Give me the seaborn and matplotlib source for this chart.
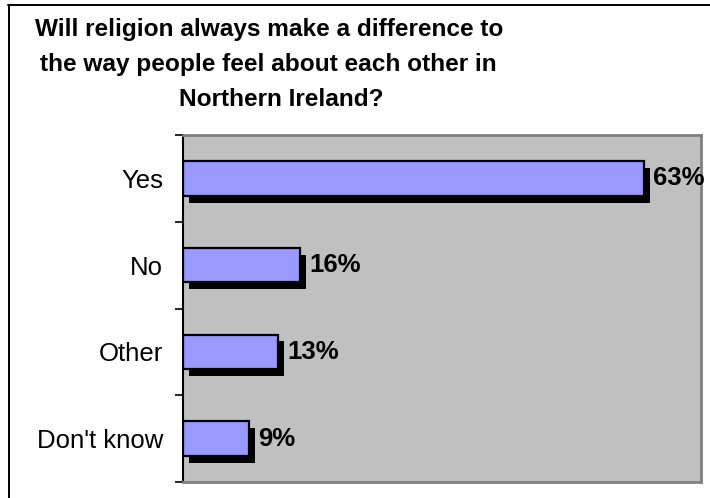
import matplotlib
matplotlib.use("Agg")
import matplotlib.pyplot as plt
import matplotlib.patheffects as pe
from matplotlib.lines import Line2D
from matplotlib.ticker import FixedLocator
import seaborn as sns
import pandas as pd

# Survey answers and their shares (percent)
categories = ["Yes", "No", "Other", "Don't know"]
values = [63, 16, 13, 9]
title_lines = [
    "Will religion always make a difference to",
    "the way people feel about each other in",
    "Northern Ireland?",
]

sns.set_theme(style="white")
plt.rcParams["font.family"] = ["Liberation Sans", "DejaVu Sans"]

df = pd.DataFrame({"answer": categories, "share": values})

W, H = 710, 498
fig = plt.figure(figsize=(W / 100, H / 100), dpi=100)
fig.patch.set_facecolor("white")

ax = fig.add_axes([183 / W, 1 - 482 / H, (701 - 183) / W, (482 - 135) / H])
ax.set_facecolor("#C0C0C0")

sns.barplot(data=df, x="share", y="answer", orient="h", color="#9999FF",
            edgecolor="black", linewidth=1.6, width=0.4, saturation=1,
            ax=ax)

# drop shadow under each bar
for p in ax.patches:
    p.set_path_effects([
        pe.SimplePatchShadow(offset=(4.4, -5.0), shadow_rgbFace="black", alpha=1.0),
        pe.Normal(),
    ])

ax.set_xlim(0, 70.8)
ax.set_ylim(len(categories) - 0.5, -0.5)
ax.set_xlabel("")
ax.set_ylabel("")
ax.set_xticks([])

# category labels centred on bars, tick marks between categories
ax.tick_params(axis="y", which="major", length=0, pad=14.4, labelsize=18.5,
               labelcolor="black")
ax.yaxis.set_minor_locator(FixedLocator([i - 0.5 for i in range(len(categories) + 1)]))
ax.tick_params(axis="y", which="minor", left=True, length=5.5, width=1.2,
               color="black", direction="out")

for side in ["top", "right", "bottom"]:
    ax.spines[side].set_visible(True)
    ax.spines[side].set_color("#808080")
    ax.spines[side].set_linewidth(2)
ax.spines["left"].set_visible(True)
ax.spines["left"].set_color("black")
ax.spines["left"].set_linewidth(1.5)

# value labels
for i, v in enumerate(values):
    ax.annotate(f"{v}%", xy=(v, i), xytext=(6.5, 0), textcoords="offset points",
                ha="left", va="center", fontsize=18.5, fontweight="bold",
                color="black")

# title, three lines
title_x = [269, 268, 281]
title_base = [35.7, 70.5, 105.5]
for line, xc, yb in zip(title_lines, title_x, title_base):
    fig.text(xc / W, 1 - yb / H, line, ha="center", va="baseline",
             fontsize=17.6, fontweight="bold", color="black")

# chart frame
fig.add_artist(Line2D([8.5 / W, 8.5 / W], [1 - 5 / H, 0], transform=fig.transFigure,
                      color="black", linewidth=1.4))
fig.add_artist(Line2D([8 / W, 1], [1 - 5 / H, 1 - 5 / H], transform=fig.transFigure,
                      color="black", linewidth=1.4))

fig.savefig("out.png", dpi=100)
